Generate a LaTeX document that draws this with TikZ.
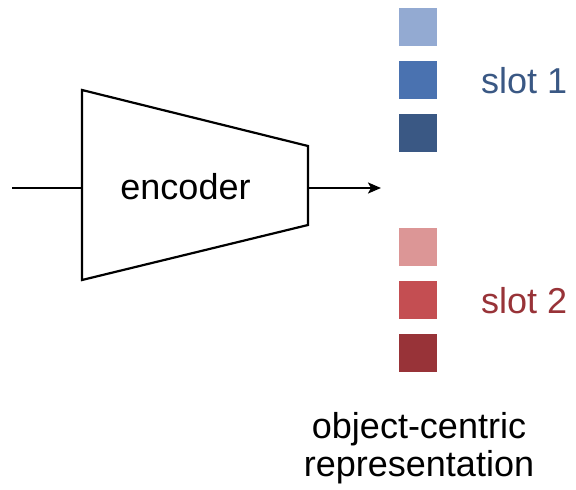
\documentclass[tikz,border=0pt]{standalone}
\usepackage{fontspec}
\setmainfont{Liberation Sans}
\usetikzlibrary{arrows.meta}
\definecolor{bA}{RGB}{147,170,210}
\definecolor{bB}{RGB}{74,114,176}
\definecolor{bC}{RGB}{58,88,132}
\definecolor{rA}{RGB}{220,150,150}
\definecolor{rB}{RGB}{196,78,82}
\definecolor{rC}{RGB}{152,51,56}
\begin{document}
\begin{tikzpicture}[x=1pt,y=-1pt,
  lbl/.style={inner sep=0pt,anchor=base,font=\fontsize{36}{38}\selectfont},
  sq/.style={minimum width=38pt,minimum height=38pt,inner sep=0pt,draw=none},
  conn/.style={line width=2.2pt},
  arr/.style={conn,-{Stealth[length=13pt,width=11pt,inset=3pt]}}]
\useasboundingbox (0,0) rectangle (576,490);
% encoder
\draw[line width=2.2pt,line join=miter] (82,90) -- (308,146) -- (308,225) -- (82,280) -- cycle;
\node[lbl] (enc) at (185.5,199) {encoder};
\coordinate (in) at (12,188);
\coordinate (encL) at (82,188);
\coordinate (encR) at (308,188);
\coordinate (out) at (381,188);
\draw[conn] (in) -- (encL);
\draw[arr] (encR) -- (out);
% slots
\node[sq,fill=bA] (s1a) at (418,27) {};
\node[sq,fill=bB] (s1b) at (418,80) {};
\node[sq,fill=bC] (s1c) at (418,132.5) {};
\node[sq,fill=rA] (s2a) at (418,247) {};
\node[sq,fill=rB] (s2b) at (418,300) {};
\node[sq,fill=rC] (s2c) at (418,353) {};
\node[lbl,text=bC,anchor=base west] (l1) at (481,93) {slot 1};
\node[lbl,text=rC,anchor=base west] (l2) at (481,313) {slot 2};
\node[lbl,align=center,anchor=base] (rep) at (419,476) {object-centric\\representation};
\end{tikzpicture}
\end{document}
